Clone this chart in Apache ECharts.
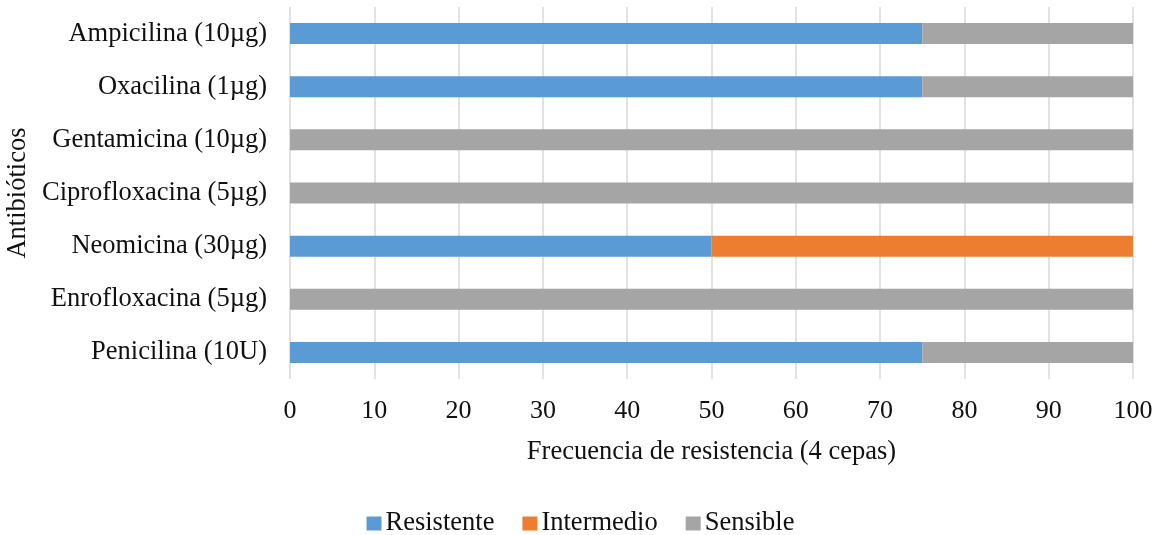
<!DOCTYPE html>
<html>
<head>
<meta charset="utf-8">
<style>
  html, body { margin: 0; padding: 0; background: #fff; }
  #chart { width: 1161px; height: 535px; }
</style>
<script src="https://cdn.jsdelivr.net/npm/echarts@6/dist/echarts.min.js"></script>
</head>
<body>
<div id="chart"></div>
<script>
// Antibiotics, listed bottom to top as the category axis draws them
const antibiotics = [
  'Penicilina (10U)',
  'Enrofloxacina (5µg)',
  'Neomicina (30µg)',
  'Ciprofloxacina (5µg)',
  'Gentamicina (10µg)',
  'Oxacilina (1µg)',
  'Ampicilina (10µg)'
];
// Percentage of strains in each susceptibility class
const resistente = [75, 0, 50, 0, 0, 75, 75];
const intermedio = [0, 0, 50, 0, 0, 0, 0];
const sensible   = [25, 100, 0, 100, 100, 25, 25];
const xTicks = [0, 10, 20, 30, 40, 50, 60, 70, 80, 90, 100];

const FONT = '"Liberation Serif", "Times New Roman", serif';
const TEXT = '#111';
const SIZE = 26.5;

const chart = echarts.init(document.getElementById('chart'), null, { renderer: 'canvas' });

const barSeries = (name, data, color) => ({
  name,
  type: 'bar',
  stack: 'total',
  data,
  barWidth: 21,
  itemStyle: { color },
  emphasis: { disabled: true }
});

chart.setOption({
  animation: false,
  textStyle: { fontFamily: FONT },
  grid: { left: 290, right: 28, top: 7, bottom: 156, containLabel: false, outerBoundsMode: 'none' },
  xAxis: {
    type: 'value',
    min: xTicks[0],
    max: xTicks[xTicks.length - 1],
    interval: xTicks[1] - xTicks[0],
    axisLine: { show: false },
    axisTick: { show: false },
    splitLine: { show: true, lineStyle: { color: '#d9d9d9', width: 1.5 } },
    axisLabel: { color: TEXT, fontFamily: FONT, fontSize: 26, margin: 19 },
    name: 'Frecuencia de resistencia (4 cepas)',
    nameLocation: 'middle',
    nameGap: 60,
    nameTextStyle: { color: TEXT, fontFamily: FONT, fontSize: SIZE }
  },
  yAxis: {
    type: 'category',
    data: antibiotics,
    axisLine: { show: false },
    axisTick: { show: false },
    axisLabel: { color: TEXT, fontFamily: FONT, fontSize: SIZE, margin: 23 },
    name: 'Antibióticos',
    nameLocation: 'middle',
    nameGap: 256,
    nameRotate: 90,
    nameTextStyle: { color: TEXT, fontFamily: FONT, fontSize: SIZE }
  },
  legend: {
    data: ['Resistente', 'Intermedio', 'Sensible'],
    top: 505,
    left: 'center',
    itemWidth: 15,
    itemHeight: 14,
    itemGap: 28,
    icon: 'rect',
    textStyle: { color: TEXT, fontFamily: FONT, fontSize: SIZE, padding: [0, 0, 0, -1] }
  },
  series: [
    barSeries('Resistente', resistente, '#5b9bd5'),
    barSeries('Intermedio', intermedio, '#ed7d31'),
    barSeries('Sensible', sensible, '#a5a5a5')
  ]
});
</script>
</body>
</html>
